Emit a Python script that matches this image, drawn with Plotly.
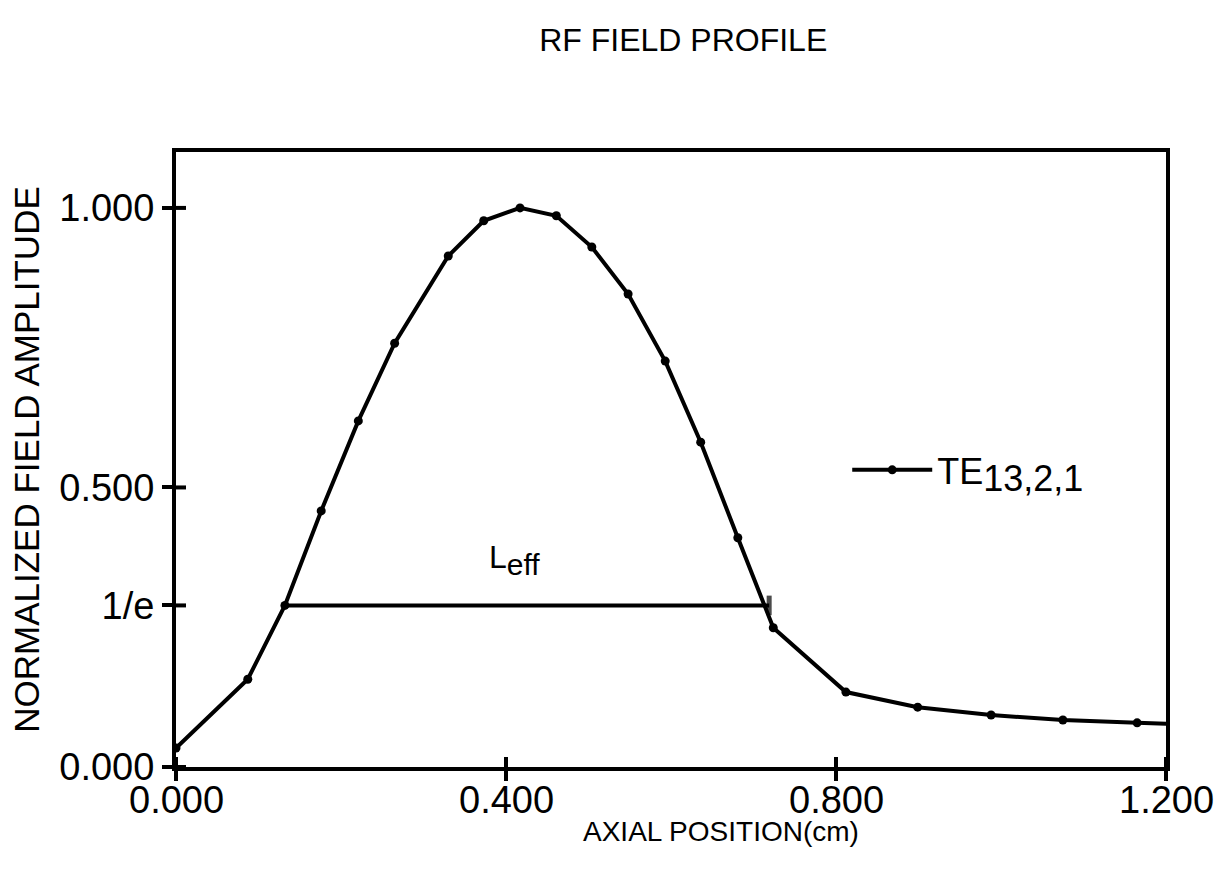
import plotly.graph_objects as go

# data
axial_pos = [0.0, 0.087, 0.132, 0.176, 0.221, 0.265, 0.330, 0.373, 0.417, 0.461,
             0.504, 0.548, 0.593, 0.636, 0.681, 0.724, 0.812, 0.899, 0.988, 1.075,
             1.165, 1.253]
field_amp = [0.034, 0.157, 0.289, 0.458, 0.619, 0.758, 0.914, 0.977, 1.000, 0.986,
             0.930, 0.846, 0.726, 0.581, 0.410, 0.249, 0.134, 0.107, 0.093, 0.084,
             0.079, 0.075]
leff_x = [0.132, 0.719]
leff_y = [0.289, 0.289]
inv_e_level = 0.289
x_ticks = [0.0, 0.4, 0.8, 1.2]
x_ticklabels = ["0.000", "0.400", "0.800", "1.200"]
y_ticks = [0.0, inv_e_level, 0.5, 1.0]
y_ticklabels = ["0.000", "1/e", "0.500", "1.000"]

FONT = "Liberation Sans"
BLACK = "#000000"
LW = 4
W, H = 1231, 879
M = dict(l=176, r=65, t=152, b=112)
TICKLEN = 10

fig = go.Figure()
fig.add_trace(go.Scatter(
    x=axial_pos, y=field_amp, mode="lines+markers",
    line=dict(color=BLACK, width=LW),
    marker=dict(color=BLACK, size=9),
    name='TE<sub><span style="font-size:36px">13,2,1</span></sub>',
))
fig.add_trace(go.Scatter(
    x=leff_x, y=leff_y, mode="lines+markers",
    line=dict(color=BLACK, width=LW),
    marker=dict(symbol=["circle", "line-ns"], size=[0, 14], color=BLACK,
                line=dict(color=BLACK, width=5)),
    showlegend=False, hoverinfo="skip",
))

plot_w = W - M["l"] - M["r"]
plot_h = H - M["t"] - M["b"]
# inner half of the cross ticks, derived from the tick arrays
for v in x_ticks:
    fig.add_shape(type="line", xref="x", yref="paper", x0=v, x1=v,
                  y0=0, y1=TICKLEN / plot_h, line=dict(color=BLACK, width=LW))
for v in y_ticks:
    fig.add_shape(type="line", xref="paper", yref="y", x0=0, x1=TICKLEN / plot_w,
                  y0=v, y1=v, line=dict(color=BLACK, width=LW))
# x tick labels placed a little closer to the axis than Plotly's default
for v, t in zip(x_ticks, x_ticklabels):
    fig.add_annotation(x=v, xref="x", yref="paper", y=-33 / plot_h, text=t,
                       showarrow=False, xanchor="center", yanchor="middle",
                       font=dict(family=FONT, size=38, color=BLACK))

fig.add_annotation(x=0.41, y=0.37, text='L<sub><span style="font-size:30px">eff</span></sub>',
                   showarrow=False, font=dict(family=FONT, size=32, color=BLACK))
fig.add_annotation(xref="paper", yref="paper", x=0.55, y=-64 / plot_h,
                   text="AXIAL POSITION(cm)", showarrow=False,
                   xanchor="center", yanchor="middle",
                   font=dict(family=FONT, size=28, color=BLACK))

axis_common = dict(showgrid=False, zeroline=False, linecolor=BLACK, linewidth=LW,
                   ticks="outside", ticklen=TICKLEN, tickwidth=LW, tickcolor=BLACK)

fig.update_layout(
    width=W, height=H,
    paper_bgcolor="white", plot_bgcolor="white",
    margin=M,
    font=dict(family=FONT, color=BLACK),
    title=dict(text="RF FIELD PROFILE", x=0.555, xanchor="center", y=0.955,
               yanchor="middle", font=dict(family=FONT, size=32, color=BLACK)),
    xaxis=dict(range=[0, 1.2], tickvals=x_ticks, showticklabels=False,
               mirror=True, **axis_common),
    yaxis=dict(range=[0, 1.1], tickvals=y_ticks, ticktext=y_ticklabels,
               mirror=True, tickfont=dict(size=38),
               title=dict(text="NORMALIZED FIELD AMPLITUDE", font=dict(size=35), standoff=10),
               **axis_common),
    legend=dict(x=0.678, y=0.483, xanchor="left", yanchor="middle",
                bgcolor="rgba(0,0,0,0)", font=dict(size=36, color=BLACK),
                itemwidth=80),
    showlegend=True,
)

fig.write_html("out.html")
